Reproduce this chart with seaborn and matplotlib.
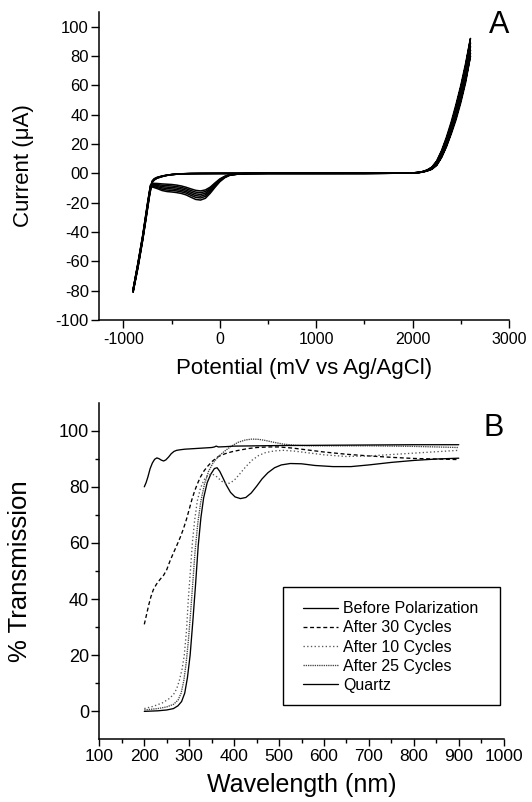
import matplotlib
matplotlib.use('Agg')
import matplotlib.pyplot as plt
import seaborn as sns
from matplotlib.ticker import MultipleLocator, FixedLocator
from matplotlib.patches import Rectangle

# ---------------- Panel A: cyclic voltammetry ----------------
cv_potential_fwd = [-900, -850, -800, -760, -730, -712, -700, -680, -650, -600, -550, -500,
                    -450, -400, -300, -200, 0, 500, 1000, 1500, 1900, 2000,
                    2050, 2100, 2150, 2200, 2250, 2300, 2350, 2400, 2450, 2500, 2550, 2600]
cv_potential_rev = [2600, 2550, 2500, 2450, 2400, 2350, 2300, 2250, 2200, 2150, 2100, 2050, 2000,
                    1900, 1500, 1000, 500, 300, 200, 100, 50, 0, -50, -100, -150, -200, -250,
                    -300, -350, -400, -450, -500, -550, -600, -650, -700, -720, -750, -800, -850, -900]

cv_fwd_1 = [-79, -62, -43, -26, -13, -7.5, -5.0, -3.6, -2.7, -1.8, -1.2, -0.8, -0.5, -0.3, -0.15, -0.1, -0.05,
            0, 0, 0.02, 0.1, 0.3, 0.6, 1.2, 2.3, 4.3, 8.5, 15.5, 24.5, 35, 47, 60, 75, 92]
cv_fwd_2 = [-79.5, -62.5, -43.5, -26.5, -13.5, -7.8, -5.2, -3.8, -2.8, -1.9, -1.25, -0.8, -0.5, -0.3, -0.15, -0.1, -0.05,
            0, 0, 0.02, 0.1, 0.3, 0.6, 1.1, 2.2, 4.0, 8.0, 14.5, 23.2, 33.5, 45, 58, 72.5, 89]
cv_fwd_3 = [-80, -63, -44, -27, -14, -8.2, -5.5, -4.0, -2.9, -2.0, -1.3, -0.85, -0.55, -0.32, -0.16, -0.1, -0.05,
            0, 0, 0.02, 0.1, 0.3, 0.5, 1.0, 2.0, 3.7, 7.3, 13.5, 22, 32, 43, 55.5, 70, 86.5]
cv_fwd_4 = [-80, -63.5, -44.5, -27.5, -14.5, -8.5, -5.7, -4.2, -3.1, -2.1, -1.35, -0.85, -0.55, -0.33, -0.17, -0.1, -0.05,
            0, 0, 0.02, 0.1, 0.3, 0.5, 1.0, 1.9, 3.4, 6.7, 12.6, 20.8, 30.5, 41.2, 53.5, 67.5, 84]
cv_fwd_5 = [-80.5, -64, -45, -28, -15, -8.8, -5.9, -4.4, -3.2, -2.2, -1.4, -0.9, -0.6, -0.35, -0.18, -0.1, -0.05,
            0, 0, 0.02, 0.1, 0.3, 0.5, 0.9, 1.8, 3.1, 6.1, 11.8, 19.6, 29, 39.5, 51.5, 65.5, 82]
cv_fwd_6 = [-81, -64.5, -45.5, -28.5, -15.5, -9.0, -6.0, -4.5, -3.3, -2.2, -1.4, -0.9, -0.6, -0.35, -0.2, -0.1, -0.05,
            0, 0, 0.02, 0.1, 0.3, 0.4, 0.9, 1.7, 2.9, 5.6, 11.0, 18.5, 27.8, 38, 49.8, 63.5, 80]

cv_rev_1 = [92, 73.5, 58.5, 45.5, 33.5, 23.5, 14.8, 8.1, 4.1, 2.1, 1.1, 0.5, 0.3, 0.1, 0, 0, 0,
            -0.1, -0.3, -0.9, -2.0, -3.8, -6.5, -9.4, -11.3, -12.0, -11.6, -10.6, -9.5, -8.6, -8.0,
            -7.6, -7.4, -7.2, -6.9, -6.8, -8.0, -20, -42, -61, -79]
cv_rev_2 = [89, 71, 56.5, 43.5, 32, 22.2, 13.9, 7.6, 3.8, 2.0, 1.0, 0.5, 0.3, 0.1, 0, 0, 0,
            -0.1, -0.3, -1.0, -2.2, -4.1, -7.0, -10.2, -12.4, -13.2, -12.8, -11.7, -10.5, -9.6, -9.0,
            -8.6, -8.4, -8.1, -7.6, -7.3, -8.4, -20.5, -42.5, -61.5, -79.5]
cv_rev_3 = [86.5, 68.5, 54, 41.5, 30.5, 21, 13, 7.0, 3.5, 1.9, 0.95, 0.45, 0.3, 0.1, 0, 0, 0,
            -0.1, -0.3, -1.1, -2.4, -4.5, -7.6, -11.0, -13.5, -14.4, -14.0, -12.8, -11.5, -10.6, -10.0,
            -9.6, -9.4, -9.0, -8.3, -7.8, -8.8, -21, -43, -62, -80]
cv_rev_4 = [84, 66, 52, 39.7, 29.2, 20, 12.2, 6.5, 3.3, 1.8, 0.9, 0.45, 0.3, 0.1, 0, 0, 0,
            -0.1, -0.4, -1.2, -2.6, -4.9, -8.2, -11.8, -14.6, -15.6, -15.2, -13.9, -12.5, -11.6, -11.0,
            -10.6, -10.4, -9.9, -9.0, -8.3, -9.2, -21.5, -43.5, -62.5, -80]
cv_rev_5 = [82, 64, 50, 38, 28, 19, 11.5, 6.0, 3.0, 1.7, 0.85, 0.4, 0.3, 0.1, 0, 0, 0,
            -0.1, -0.4, -1.3, -2.8, -5.3, -8.8, -12.6, -15.7, -16.8, -16.4, -15.0, -13.5, -12.6, -12.0,
            -11.6, -11.4, -10.8, -9.7, -8.8, -9.6, -22, -44, -63, -80.5]
cv_rev_6 = [80, 62, 48.3, 36.5, 26.8, 18, 10.8, 5.5, 2.8, 1.6, 0.8, 0.4, 0.3, 0.1, 0, 0, 0,
            -0.1, -0.4, -1.4, -3.0, -5.7, -9.5, -13.6, -17.0, -18.2, -17.8, -16.3, -14.7, -13.7, -13.1,
            -12.7, -12.4, -11.7, -10.4, -9.3, -10.0, -22.5, -44.5, -63.5, -81]

cv_cycles_fwd = [cv_fwd_1, cv_fwd_2, cv_fwd_3, cv_fwd_4, cv_fwd_5, cv_fwd_6]
cv_cycles_rev = [cv_rev_1, cv_rev_2, cv_rev_3, cv_rev_4, cv_rev_5, cv_rev_6]

cv_yticks = [-100, -80, -60, -40, -20, 0, 20, 40, 60, 80, 100]
cv_yticklabels = ['-100', '-80', '-60', '-40', '-20', '00', '20', '40', '60', '80', '100']
cv_xticks = [-1000, 0, 1000, 2000, 3000]

# ---------------- Panel B: transmission spectra ----------------
wl_before = [200, 230, 250, 265, 275, 283, 290, 296, 302, 308, 314, 320, 326, 332, 340, 348, 356, 362,
             368, 375, 383, 392, 402, 414, 426, 438, 450, 462, 475, 490, 505, 525, 550, 580, 620, 660,
             700, 750, 800, 850, 900]
t_before = [0, 0.2, 0.5, 1.0, 2.0, 3.5, 6.5, 12, 20, 32, 45, 59, 69, 76, 81.5, 84.5, 86.5, 86.8,
            85.5, 83.2, 80.5, 78.0, 76.4, 75.8, 76.2, 77.8, 80.2, 82.8, 85.0, 86.8, 87.8, 88.3, 88.2,
            87.6, 87.2, 87.2, 87.8, 88.7, 89.4, 89.9, 90.2]

wl_after30 = [200, 205, 210, 215, 220, 227, 235, 243, 250, 257, 265, 272, 280, 287, 294, 300, 306, 312,
              318, 325, 333, 342, 352, 365, 380, 395, 410, 430, 450, 475, 500, 530, 560, 600, 650, 700,
              750, 800, 850, 900]
t_after30 = [31, 34.5, 38, 41, 43.3, 45.3, 47, 48.5, 50.5, 53.5, 56.5, 59, 62, 65, 68.5, 72, 75.5, 78.5,
             81, 83.5, 85.7, 87.5, 89.2, 90.8, 91.8, 92.5, 93, 93.6, 94, 94.2, 94.2, 93.8, 93.2, 92.4,
             91.6, 91.0, 90.5, 90.1, 89.9, 89.7]

wl_after10 = [200, 220, 240, 255, 265, 272, 278, 284, 289, 294, 298, 303, 307, 312, 318, 325, 333, 342,
              352, 362, 372, 382, 390, 400, 412, 425, 440, 455, 470, 490, 510, 535, 560, 600, 650, 700,
              750, 800, 850, 900]
t_after10 = [1.0, 1.8, 3.0, 4.5, 6.0, 8.0, 11, 15, 20, 29, 40, 51, 60, 68, 75, 79.5, 82.5, 84.2,
             84.5, 83.5, 82.0, 81.2, 81.3, 82.3, 84.5, 87.0, 89.5, 91.2, 92.2, 92.8, 93.0, 92.7, 92.2,
             91.4, 90.8, 91.0, 91.5, 92.0, 92.5, 93.0]

wl_after25 = [200, 230, 250, 265, 275, 282, 288, 293, 298, 303, 308, 313, 319, 326, 334, 343, 353, 365,
              378, 392, 408, 425, 440, 455, 470, 490, 510, 535, 570, 620, 700, 800, 900]
t_after25 = [0.5, 1.0, 1.6, 2.5, 4.0, 6.5, 11, 17, 25, 35, 46, 57, 67, 75, 81, 85.5, 88.5, 90.8,
             92.6, 94.3, 95.8, 96.7, 97.0, 96.9, 96.5, 95.8, 95.2, 94.8, 94.6, 94.6, 94.6, 94.4, 94.0]

wl_quartz = [200, 204, 208, 213, 218, 223, 228, 233, 238, 243, 248, 254, 260, 266, 272, 280, 290, 310,
             330, 350, 356, 360, 365, 380, 400, 450, 500, 600, 700, 800, 900]
t_quartz = [80, 81.5, 83.5, 86.5, 88.5, 89.8, 90.3, 90.0, 89.5, 89.2, 89.6, 90.6, 91.8, 92.6, 93.0,
            93.2, 93.4, 93.6, 93.8, 94.0, 94.2, 94.5, 94.2, 94.3, 94.5, 94.6, 94.7, 94.8, 94.9, 95.0, 95.0]

spec_labels = ['Before Polarization', 'After 30 Cycles', 'After 10 Cycles', 'After 25 Cycles', 'Quartz']
spec_x = [wl_before, wl_after30, wl_after10, wl_after25, wl_quartz]
spec_y = [t_before, t_after30, t_after10, t_after25, t_quartz]
spec_colors = ['black', 'black', '#555555', '#444444', 'black']
spec_styles = ['-', (0, (3, 2)), (0, (1, 1.8)), (0, (1, 0.7)), '-']

# ---------------- Figure ----------------
sns.set_theme(style='ticks', rc={
    'axes.edgecolor': 'black', 'xtick.color': 'black', 'ytick.color': 'black',
    'text.color': 'black', 'axes.labelcolor': 'black',
})
plt.rcParams['font.family'] = ['Liberation Sans', 'DejaVu Sans']
plt.rcParams['axes.unicode_minus'] = False

fig = plt.figure(figsize=(5.32, 8.02), dpi=100)
ax1 = fig.add_axes([0.1868, 0.601, 0.770, 0.384])
ax2 = fig.add_axes([0.1868, 0.078, 0.760, 0.420])

for f, r in zip(cv_cycles_fwd, cv_cycles_rev):
    sns.lineplot(x=cv_potential_fwd + cv_potential_rev, y=f + r, sort=False, estimator=None,
                 color='black', linewidth=1.1, ax=ax1)

ax1.set_xlim(-1250, 3000)
ax1.set_ylim(-100, 110)
ax1.set_xticks(cv_xticks)
ax1.set_xticklabels([str(v) for v in cv_xticks])
ax1.xaxis.set_minor_locator(MultipleLocator(500))
ax1.set_yticks(cv_yticks)
ax1.set_yticklabels(cv_yticklabels)
ax1.set_xlabel('Potential (mV vs Ag/AgCl)', fontsize=16)
ax1.set_ylabel('Current (\u03bcA)', fontsize=16)
ax1.xaxis.set_label_coords(0.5, -0.122)
ax1.yaxis.set_label_coords(-0.160, 0.5)
ax1.tick_params(axis='x', which='major', labelsize=11.5, length=5.5, width=1.0, pad=3)
ax1.tick_params(axis='y', which='major', labelsize=12, length=5.5, width=1.0, pad=2)
ax1.tick_params(which='minor', length=3, width=1.0)

for xs, ys, c, ls in zip(spec_x, spec_y, spec_colors, spec_styles):
    sns.lineplot(x=xs, y=ys, sort=False, estimator=None, color=c, linewidth=0.95,
                 linestyle=ls, ax=ax2)

ax2.set_xlim(100, 1000)
ax2.set_ylim(-10, 110)
ax2.xaxis.set_major_locator(MultipleLocator(100))
ax2.xaxis.set_minor_locator(MultipleLocator(50))
ax2.yaxis.set_major_locator(FixedLocator([0, 20, 40, 60, 80, 100]))
ax2.yaxis.set_minor_locator(FixedLocator([10, 30, 50, 70, 90]))
ax2.set_xlabel('Wavelength (nm)', fontsize=18)
ax2.set_ylabel('% Transmission', fontsize=18.5)
ax2.xaxis.set_label_coords(0.5, -0.100)
ax2.yaxis.set_label_coords(-0.167, 0.5)
ax2.tick_params(axis='x', which='major', labelsize=12.5, length=5, width=1.0, pad=2)
ax2.tick_params(axis='y', which='major', labelsize=13, length=5.5, width=1.0, pad=2)
ax2.tick_params(which='minor', length=3, width=1.0)

for ax in (ax1, ax2):
    sns.despine(ax=ax)
    for s in ('left', 'bottom'):
        ax.spines[s].set_linewidth(1.1)

handles = ax2.lines[:5]
ax2.add_patch(Rectangle((0.455, 0.102), 0.536, 0.3515, transform=ax2.transAxes,
                        fill=False, edgecolor='black', linewidth=1.0, clip_on=False))
ax2.legend(handles, spec_labels, loc='upper left', bbox_to_anchor=(0.503, 0.410),
           frameon=False, borderpad=0, borderaxespad=0, handlelength=2.23,
           handletextpad=0.31, labelspacing=0.26, fontsize=11.5)

fig.text(0.938, 0.969, 'A', fontsize=22, ha='center', va='center')
fig.text(0.927, 0.466, 'B', fontsize=22, ha='center', va='center')

fig.savefig('out.png', dpi=100)
